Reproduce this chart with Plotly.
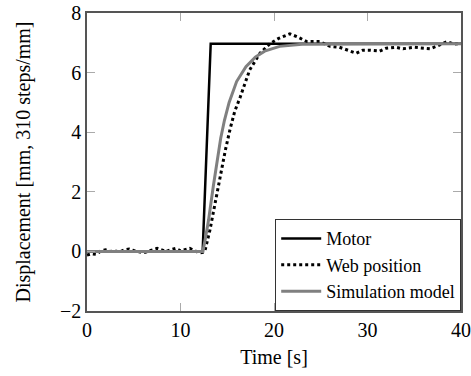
import plotly.graph_objects as go

motor_t = [0, 12.37, 13.23, 40]
motor_y = [0, 0, 6.97, 6.97]

web_t = [0, 0.5, 1, 1.5, 2, 2.5, 3, 3.5, 4, 4.5, 5, 5.5, 6, 6.5, 7, 7.5, 8, 8.5, 9, 9.5,
         10, 10.5, 11, 11.5, 12, 12.4, 12.6, 13.15, 13.7, 14.2, 14.8, 15.3, 15.8, 16.4,
         17.4, 18.5, 19.6, 20.5, 21.7, 22.5, 23.5, 24.9, 26, 27, 28, 28.8, 29.5, 30.3,
         31.3, 32, 33, 33.8, 35, 36, 36.7, 37.5, 38.5, 39.2, 40]
web_y = [-0.12, -0.08, -0.1, 0.02, 0.05, 0.0, 0.02, -0.02, 0.05, 0.08, 0.03, 0.0, -0.05,
         0.0, 0.04, 0.1, 0.05, 0.0, 0.06, 0.1, 0.02, 0.05, 0.1, 0.03, -0.05, -0.03, 0.0,
         0.72, 1.61, 2.51, 3.4, 4.1, 4.7, 5.19, 6.09, 6.65, 6.98, 7.15, 7.3, 7.2, 7.04,
         7.04, 6.88, 6.85, 6.75, 6.65, 6.75, 6.75, 6.72, 6.82, 6.85, 6.8, 6.85, 6.82,
         6.8, 6.9, 7.04, 6.96, 6.98]

sim_t = [0, 12.4, 12.7, 13.0, 13.5, 14.0, 14.3, 14.7, 15.2, 16.0, 17.0, 18.0, 19.0,
         20.6, 23, 40]
sim_y = [0, 0, 0.5, 1.05, 2.17, 3.2, 3.8, 4.4, 5.0, 5.7, 6.2, 6.52, 6.72,
         6.88, 6.95, 6.97]

x_ticks = [0, 10, 20, 30, 40]
y_ticks = [-2, 0, 2, 4, 6, 8]

font_family = "Liberation Serif"

fig = go.Figure()
fig.add_trace(go.Scatter(x=motor_t, y=motor_y, mode="lines", name="Motor",
                         line=dict(color="black", width=2.5)))
fig.add_trace(go.Scatter(x=web_t, y=web_y, mode="lines", name="Web position",
                         line=dict(color="black", width=3, dash="dot")))
fig.add_trace(go.Scatter(x=sim_t, y=sim_y, mode="lines", name="Simulation model",
                         line=dict(color="#808080", width=3)))

axis_common = dict(showgrid=False, zeroline=False, showline=True, linecolor="#555555",
                   linewidth=1.5, mirror="ticks", ticks="inside", ticklen=8,
                   tickcolor="#aaaaaa", tickwidth=1, automargin=False,
                   tickfont=dict(family=font_family, size=20, color="black"))

fig.update_layout(
    width=471, height=376,
    margin=dict(l=87, r=10, t=13, b=65),
    paper_bgcolor="white", plot_bgcolor="white",
    font=dict(family=font_family, color="black"),
    showlegend=True,
    legend=dict(x=1, y=0, xanchor="right", yanchor="bottom",
                bordercolor="#333333", borderwidth=1.2, bgcolor="white",
                font=dict(family=font_family, size=18, color="black"),
                tracegroupgap=0, itemwidth=40),
    xaxis=dict(range=[0, 40], tickvals=x_ticks, ticktext=[str(v) for v in x_ticks],
               title=dict(text="Time [s]", font=dict(family=font_family, size=20), standoff=10),
               **axis_common),
    yaxis=dict(range=[-2, 8], tickvals=y_ticks,
               ticktext=["\u22122" if v < 0 else str(v) for v in y_ticks],
               title=dict(text="Displacement [mm, 310 steps/mm]",
                          font=dict(family=font_family, size=20), standoff=24),
               **axis_common),
)

fig.write_html("out.html")
